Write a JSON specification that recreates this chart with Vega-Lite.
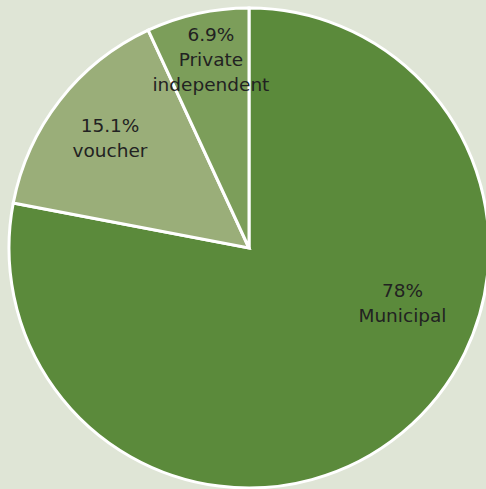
{
  "$schema": "https://vega.github.io/schema/vega-lite/v6.json",
  "width": 498,
  "height": 496,
  "autosize": "none",
  "padding": 0,
  "background": "#dfe5d6",
  "config": {"view": {"stroke": null}},
  "data": {"values": [
    {"category": "Municipal", "value": 78},
    {"category": "voucher", "value": 15.1},
    {"category": "Private independent", "value": 6.9}
  ]},
  "transform": [
    {"calculate": "format(datum.value, '') + '%|' + replace(datum.category, ' ', '|')", "as": "label"}
  ],
  "encoding": {
    "theta": {"field": "value", "type": "quantitative", "stack": true},
    "order": {"field": "value", "sort": "descending"}
  },
  "layer": [
    {
      "mark": {"type": "arc", "outerRadius": 240, "stroke": "white", "strokeWidth": 3},
      "encoding": {
        "color": {
          "field": "category", "type": "nominal", "legend": null,
          "scale": {"domain": ["Municipal", "voucher", "Private independent"], "range": ["#5b8a3b", "#9aae79", "#7c9e5a"]}
        }
      }
    },
    {
      "mark": {
        "type": "text",
        "font": "DejaVu Sans",
        "fontSize": 18.5,
        "lineHeight": 25,
        "lineBreak": "|",
        "color": "#222222",
        "dy": {"expr": "datum.category == 'Private independent' ? -25 : -12"},
        "radius": {"expr": "datum.category == 'Municipal' ? 163 : datum.category == 'voucher' ? 177 : 192"},
        "thetaOffset": {"expr": "datum.category == 'Municipal' ? -0.536 : datum.category == 'voucher' ? 0.005 : 0.017"}
      },
      "encoding": {
        "text": {"field": "label"}
      }
    }
  ]
}
